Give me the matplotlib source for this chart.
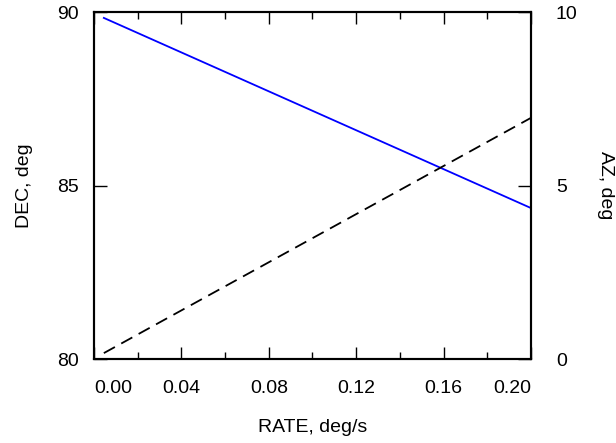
import matplotlib.pyplot as plt
from matplotlib.ticker import MultipleLocator

plt.rcParams['font.family'] = ['Liberation Sans', 'DejaVu Sans']

# rate sweep and the resulting pointing
rate = [0.0045, 0.2]
dec = [89.83, 84.35]
az = [0.17, 6.95]

rate_ticks = [0.00, 0.04, 0.08, 0.12, 0.16, 0.20]
rate_labels = ['0.00', '0.04', '0.08', '0.12', '0.16', '0.20']
dec_ticks = [80, 85, 90]
az_ticks = [0, 5, 10]

fig = plt.figure(figsize=(6.16, 4.43), dpi=100)
ax = fig.add_axes([0.1526, 0.1896, 0.7094, 0.7833])
ax2 = ax.twinx()

ax.plot(rate, dec, color='#0000ff', lw=1.3)
ax2.plot(rate, az, color='black', lw=1.3, dashes=(7, 4))

ax.set_xlim(0, 0.2)
ax.set_ylim(80, 90)
ax2.set_ylim(0, 10)

ax.set_xticks(rate_ticks)
ax.set_xticklabels(rate_labels)
ax.xaxis.set_minor_locator(MultipleLocator(0.02))
ax.set_yticks(dec_ticks)
ax2.set_yticks(az_ticks)

fs = 14
ax.tick_params(axis='x', which='major', direction='in', length=8.5, width=1,
               top=True, labelsize=fs, pad=15)
ax.tick_params(axis='x', which='minor', direction='in', length=5, width=1, top=True)
ax.tick_params(axis='y', direction='in', length=9.5, width=1, labelsize=fs, pad=11)
ax2.tick_params(axis='y', direction='in', length=9.5, width=1, labelsize=fs, pad=18)
for lbl in ax2.get_yticklabels():
    lbl.set_horizontalalignment('left')

# end labels sit inside the frame
xl = ax.get_xticklabels()
xl[0].set_horizontalalignment('left')
xl[-1].set_horizontalalignment('right')

for a in (ax, ax2):
    for s in a.spines.values():
        s.set_linewidth(1.5)

ax.set_xlabel('RATE, deg/s', fontsize=fs, labelpad=16)
ax.set_ylabel('DEC, deg', fontsize=fs, labelpad=17)
ax2.set_ylabel('AZ, deg', fontsize=fs, rotation=270, va='center', ha='center')
ax2.yaxis.set_label_coords(1.17, 0.5)

fig.savefig('out.png', dpi=100)
